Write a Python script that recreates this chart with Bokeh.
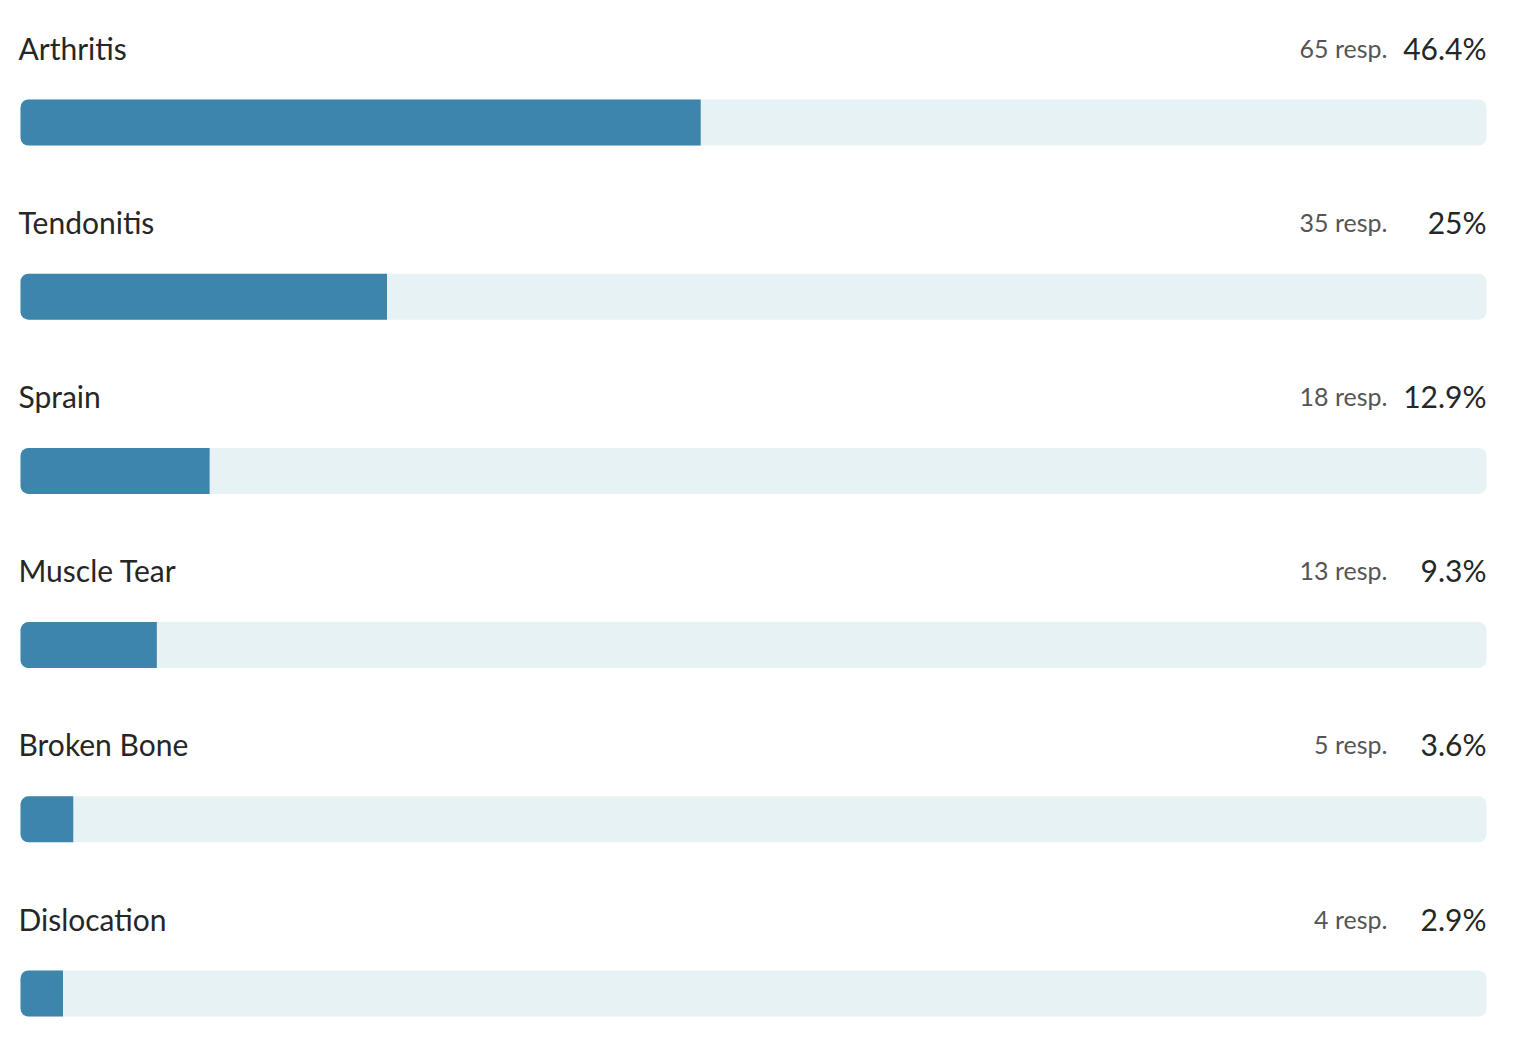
from bokeh.plotting import figure
from bokeh.models import Range1d, ColumnDataSource
from bokeh.core.properties import value
from bokeh.embed import file_html
from bokeh.resources import INLINE

categories = ["Arthritis", "Tendonitis", "Sprain", "Muscle Tear", "Broken Bone", "Dislocation"]
responses = [65, 35, 18, 13, 5, 4]
percents = [46.4, 25, 12.9, 9.3, 3.6, 2.9]
pct_labels = ["46.4%", "25%", "12.9%", "9.3%", "3.6%", "2.9%"]
resp_labels = [f"{r} resp." for r in responses]

rows = list(range(len(categories)))
label_y = [r - 0.4305 for r in rows]

src = ColumnDataSource(dict(
    y=rows, ly=label_y, pct=percents, full=[100] * len(rows), zero=[0] * len(rows),
    cat=categories, resp=resp_labels, pl=pct_labels,
))

p = figure(width=1500, height=1036, output_backend="svg", toolbar_location=None,
           x_range=Range1d(-1.3643, 100.955), y_range=Range1d(5.2468, -0.7004),
           min_border=0, outline_line_color=None)
p.axis.visible = False
p.grid.visible = False
p.background_fill_color = "white"
p.border_fill_color = "white"

p.hbar(y="y", left="zero", right="full", height=0.264, source=src,
       fill_color="#e7f2f5", line_color=None, border_radius=8)
p.hbar(y="y", left="zero", right="pct", height=0.264, source=src,
       fill_color="#3d85ab", line_color=None, border_radius=(8, 0, 0, 8))

p.text(x="zero", y="ly", text="cat", source=src, text_font=value("Lato"),
       text_font_size="30px", text_color="#262626", text_align="left", text_baseline="middle",
       x_offset=-2)
p.text(x="full", y="ly", text="pl", source=src, text_font=value("Lato"),
       text_font_size="30px", text_color="#262626", text_align="right", text_baseline="middle",
       x_offset=0)
p.text(x="full", y="ly", text="resp", source=src, text_font=value("Lato"),
       text_font_size="25px", text_color="#555555", text_align="right", text_baseline="middle",
       x_offset=-99)

open("out.html", "w").write(file_html(p, INLINE))
